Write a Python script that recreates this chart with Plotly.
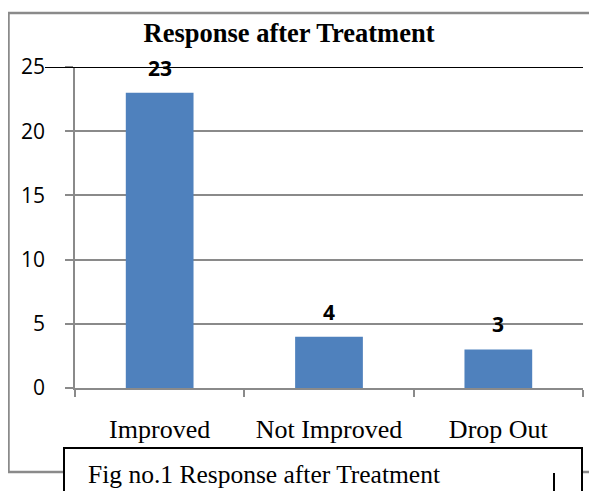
import plotly.graph_objects as go

# ---- data ----
categories = ["Improved", "Not Improved", "Drop Out"]
values = [23, 4, 3]
y_ticks = [0, 5, 10, 15, 20, 25]
title_text = "Response after Treatment"
caption_text = "Fig no.1 Response after Treatment"

# ---- geometry (page pixels; the page body adds an 8px offset) ----
OFF = 8
PW, PH = 597, 491
W, H = PW - OFF, PH - OFF
L, R, T, B = 75, 583, 67, 388  # page pixel positions of plot area


def px(x):
    return (x - L) / (R - L)


def py(y):
    return (B - y) / (B - T)


GREY = "#8a8a8a"
BLUE = "#4f81bd"

fig = go.Figure()
fig.add_trace(go.Bar(
    x=categories,
    y=values,
    marker=dict(color=BLUE, line=dict(width=0)),
    width=0.4,
    showlegend=False,
    hoverinfo="x+y",
))

# data labels
for c, v in zip(categories, values):
    fig.add_annotation(
        x=c, y=v, text=str(v), showarrow=False, yshift=25,
        font=dict(family="Open Sans", size=21, color="black", weight="bold"),
        xanchor="center", yanchor="middle",
    )

shapes = [
    # outer grey frame
    dict(type="rect", xref="paper", yref="paper",
         x0=px(8.5), x1=px(620), y0=py(472), y1=py(13),
         line=dict(color=GREY, width=2.5), fillcolor="rgba(0,0,0,0)", layer="below"),
    # black line at top value
    dict(type="line", xref="paper", yref="y",
         x0=px(45), x1=px(583), y0=25, y1=25,
         line=dict(color="black", width=2.2), layer="above"),
    # caption box
    dict(type="rect", xref="paper", yref="paper",
         x0=px(64), x1=px(582), y0=py(520), y1=py(448),
         line=dict(color="black", width=2), fillcolor="white", layer="above"),
    # small vertical mark in caption
    dict(type="line", xref="paper", yref="paper",
         x0=px(554), x1=px(554), y0=py(473), y1=py(500),
         line=dict(color="black", width=2), layer="above"),
]

fig.add_annotation(
    xref="paper", yref="paper", x=px(86), y=py(474),
    text=caption_text, showarrow=False, xanchor="left", yanchor="middle",
    font=dict(family="Liberation Serif", size=25.5, color="black"),
)

fig.update_layout(
    width=W, height=H,
    margin=dict(l=L - OFF, r=PW - R, t=T - OFF, b=PH - B, pad=0),
    paper_bgcolor="white",
    plot_bgcolor="white",
    shapes=shapes,
    bargap=0.6,
    title=dict(
        text=title_text,
        x=(289 - OFF) / W, xanchor="center", xref="container",
        y=1 - (33 - OFF) / H, yanchor="middle", yref="container",
        font=dict(family="Liberation Serif", size=26.5, color="black", weight="bold"),
    ),
    xaxis=dict(
        type="category",
        showline=True, linecolor=GREY, linewidth=1.5,
        ticks="outside", tickson="boundaries", ticklen=7, tickcolor=GREY, tickwidth=1.5,
        showgrid=False, zeroline=False,
        tickfont=dict(family="Liberation Serif", size=26, color="black"),
        ticklabelstandoff=17,
    ),
    yaxis=dict(
        range=[0, 25],
        tickvals=y_ticks,
        showline=True, linecolor=GREY, linewidth=1.5,
        ticks="outside", ticklen=8, tickcolor=GREY, tickwidth=1.5,
        showgrid=True, gridcolor=GREY, gridwidth=1.5,
        zeroline=False,
        tickfont=dict(family="Open Sans", size=21, color="black"),
        ticklabelstandoff=16,
    ),
)

fig.write_html("out.html")
